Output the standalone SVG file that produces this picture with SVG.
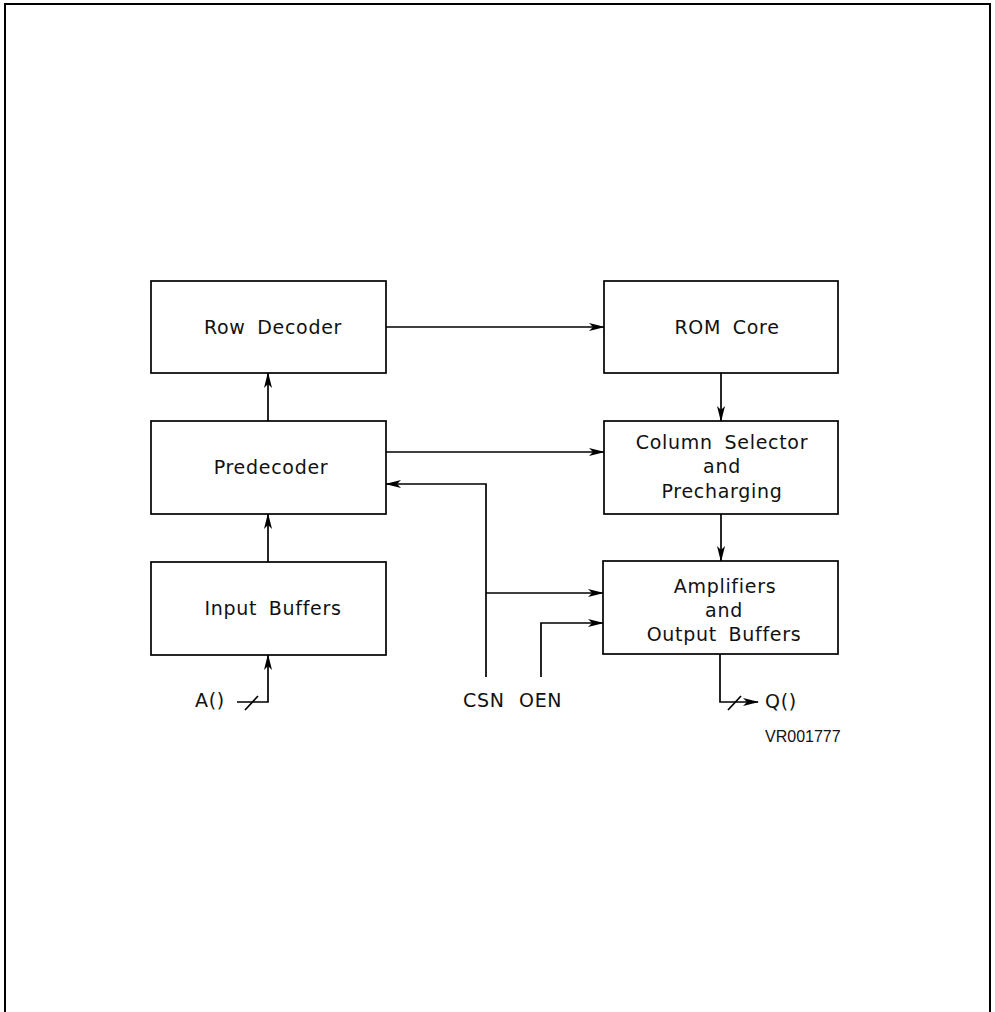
<svg xmlns="http://www.w3.org/2000/svg" width="995" height="1012" viewBox="0 0 995 1012">
  <defs>
    <marker id="arr" markerUnits="userSpaceOnUse" markerWidth="16" markerHeight="10" viewBox="0 0 16 10" refX="15" refY="5" orient="auto">
      <path d="M0,1 L16,5 L0,9 L4,5 Z" fill="#000"/>
    </marker>
    <style>
      .box { fill: #fff; stroke: #000; stroke-width: 1.7; }
      .wire { fill: none; stroke: #000; stroke-width: 1.7; }
      .lbl { font-family: "DejaVu Sans", "Liberation Sans", sans-serif; font-size: 19px; letter-spacing: 0.7px; word-spacing: 5px; fill: #111; }
      .mid { text-anchor: middle; }
      .tag { font-family: "Liberation Sans", sans-serif; font-size: 16px; fill: #111; }
    </style>
  </defs>
  <rect width="995" height="1012" fill="#fff"/>
  <path d="M5,1012 V4 H990 V1012" fill="none" stroke="#000" stroke-width="2"/>

  <g id="connectors">
    <path class="wire" d="M386,327 H604" marker-end="url(#arr)"/>
    <path class="wire" d="M268,421 V373" marker-end="url(#arr)"/>
    <path class="wire" d="M268,562 V514" marker-end="url(#arr)"/>
    <path class="wire" d="M237,702 H268 V655" marker-end="url(#arr)"/>
    <path class="wire" d="M245,710 L258,696"/>
    <path class="wire" d="M386,452 H604" marker-end="url(#arr)"/>
    <path class="wire" d="M721,373 V421" marker-end="url(#arr)"/>
    <path class="wire" d="M721,514 V561" marker-end="url(#arr)"/>
    <path class="wire" d="M486,677 V484 H386" marker-end="url(#arr)"/>
    <path class="wire" d="M486,593 H603" marker-end="url(#arr)"/>
    <path class="wire" d="M541,677 V623 H603" marker-end="url(#arr)"/>
    <path class="wire" d="M720,654 V702 H758" marker-end="url(#arr)"/>
    <path class="wire" d="M728,710 L741,696"/>
  </g>

  <g id="row-decoder">
    <rect class="box" x="151" y="281" width="235" height="92"/>
    <text class="lbl mid" x="273" y="334">Row Decoder</text>
  </g>
  <g id="rom-core">
    <rect class="box" x="604" y="281" width="234" height="92"/>
    <text class="lbl mid" x="727" y="334">ROM Core</text>
  </g>
  <g id="predecoder">
    <rect class="box" x="151" y="421" width="235" height="93"/>
    <text class="lbl mid" x="271" y="474">Predecoder</text>
  </g>
  <g id="column-selector">
    <rect class="box" x="604" y="421" width="234" height="93"/>
    <text class="lbl mid" x="722" y="449">Column Selector</text>
    <text class="lbl mid" x="722" y="473">and</text>
    <text class="lbl mid" x="722" y="498">Precharging</text>
  </g>
  <g id="input-buffers">
    <rect class="box" x="151" y="562" width="235" height="93"/>
    <text class="lbl mid" x="273" y="615">Input Buffers</text>
  </g>
  <g id="amplifiers">
    <rect class="box" x="603" y="561" width="235" height="93"/>
    <text class="lbl mid" x="725" y="593">Amplifiers</text>
    <text class="lbl mid" x="724" y="617">and</text>
    <text class="lbl mid" x="724" y="641">Output Buffers</text>
  </g>
  <g id="pins">
    <text class="lbl" x="195" y="707">A()</text>
    <text class="lbl" x="463" y="707">CSN</text>
    <text class="lbl" x="519" y="707">OEN</text>
    <text class="lbl" x="765" y="708">Q()</text>
    <text class="tag" x="765" y="742">VR001777</text>
  </g>
</svg>
